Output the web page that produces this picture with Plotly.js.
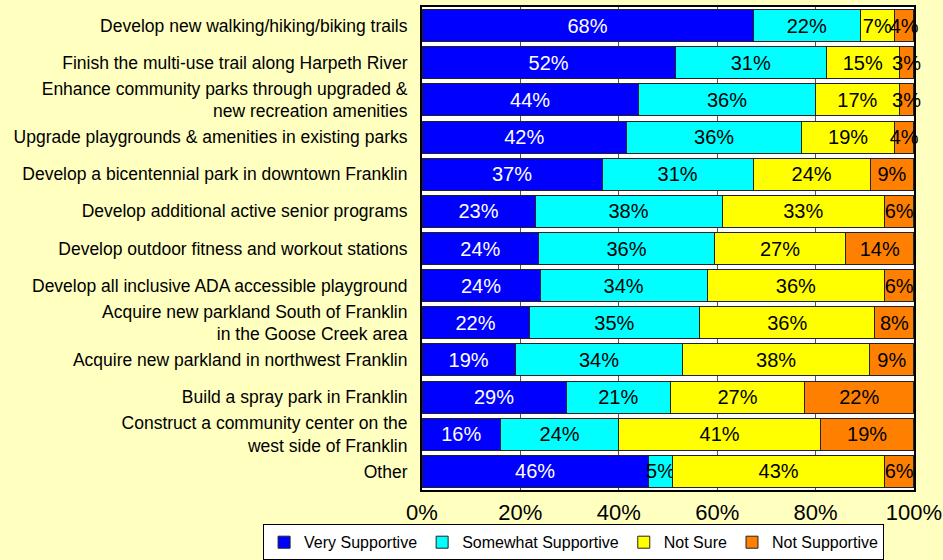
<!DOCTYPE html>
<html>
<head>
<meta charset="utf-8">
<script src="https://cdn.plot.ly/plotly-3.0.1.min.js"></script>
<style>
html,body{margin:0;padding:0;background:#FFFFC0;}
#chart{width:943px;height:560px;}
</style>
</head>
<body>
<div id="chart"></div>
<script>
const categories = [
  "Develop new walking/hiking/biking trails",
  "Finish the multi-use trail along Harpeth River",
  "Enhance community parks through upgraded &<br>new recreation amenities",
  "Upgrade playgrounds & amenities in existing parks",
  "Develop a bicentennial park in downtown Franklin",
  "Develop additional active senior programs",
  "Develop outdoor fitness and workout stations",
  "Develop all inclusive ADA accessible playground",
  "Acquire new parkland South of Franklin<br>in the Goose Creek area",
  "Acquire new parkland in northwest Franklin",
  "Build a spray park in Franklin",
  "Construct a community center on the<br>west side of Franklin",
  "Other"
];
const verySupportive     = [68, 52, 44, 42, 37, 23, 24, 24, 22, 19, 29, 16, 46];
const somewhatSupportive = [22, 31, 36, 36, 31, 38, 36, 34, 35, 34, 21, 24, 5];
const notSure            = [7, 15, 17, 19, 24, 33, 27, 36, 36, 38, 27, 41, 43];
const notSupportive      = [4, 3, 3, 4, 9, 6, 14, 6, 8, 9, 22, 19, 6];
const seriesNames = ["Very Supportive", "Somewhat Supportive", "Not Sure", "Not Supportive"];
const tickVals = [0, 20, 40, 60, 80, 100];
const tickText = ["0%", "20%", "40%", "60%", "80%", "100%"];

const seriesData = [verySupportive, somewhatSupportive, notSure, notSupportive];
const colors = ["#0000FF", "#00FFFF", "#FFFF00", "#FF8000"];
const textColors = ["#FFFFFF", "#000000", "#000000", "#000000"];
const FONT = "Arial, 'Liberation Sans', sans-serif";

const traces = seriesData.map((vals, i) => ({
  type: "bar",
  orientation: "h",
  name: seriesNames[i],
  y: categories,
  x: vals,
  text: vals.map(v => v + "%"),
  textposition: "inside",
  insidetextanchor: "middle",
  textangle: 0,
  constraintext: "none",
  cliponaxis: false,
  insidetextfont: {family: FONT, size: 20, color: textColors[i]},
  textfont: {family: FONT, size: 20, color: textColors[i]},
  marker: {color: colors[i], line: {color: "#222222", width: 1}},
  hoverinfo: "skip"
}));

const layout = {
  width: 943,
  height: 560,
  paper_bgcolor: "#FFFFC0",
  plot_bgcolor: "#FFFFFF",
  barmode: "stack",
  barnorm: "percent",
  bargap: 0.14,
  margin: {l: 422, r: 29, t: 7, b: 70, autoexpand: false},
  font: {family: FONT, color: "#000000"},
  showlegend: true,
  legend: {
    orientation: "h",
    x: -0.323,
    xanchor: "left",
    y: -0.071,
    yanchor: "top",
    bgcolor: "#FFFFFF",
    bordercolor: "#000000",
    borderwidth: 1,
    font: {family: FONT, size: 16, color: "#000000"},
    traceorder: "normal",
    itemwidth: 30,
    tracegroupgap: 0
  },
  xaxis: {
    range: [0, 100.01],
    tickvals: tickVals,
    ticktext: tickText,
    tickfont: {family: FONT, size: 22, color: "#000000"},
    showgrid: true,
    gridcolor: "#555555",
    gridwidth: 1,
    zeroline: false,
    showline: true,
    linecolor: "#000000",
    linewidth: 2,
    mirror: true,
    ticks: "",
    ticklabelstandoff: 2,
    fixedrange: true
  },
  yaxis: {
    autorange: "reversed",
    type: "category",
    tickfont: {family: FONT, size: 17.5, color: "#000000"},
    showgrid: false,
    showline: true,
    linecolor: "#000000",
    linewidth: 2,
    mirror: true,
    ticks: "",
    ticklabelstandoff: 9,
    fixedrange: true
  }
};

Plotly.newPlot("chart", traces, layout, {displayModeBar: false, staticPlot: true});
</script>
</body>
</html>
